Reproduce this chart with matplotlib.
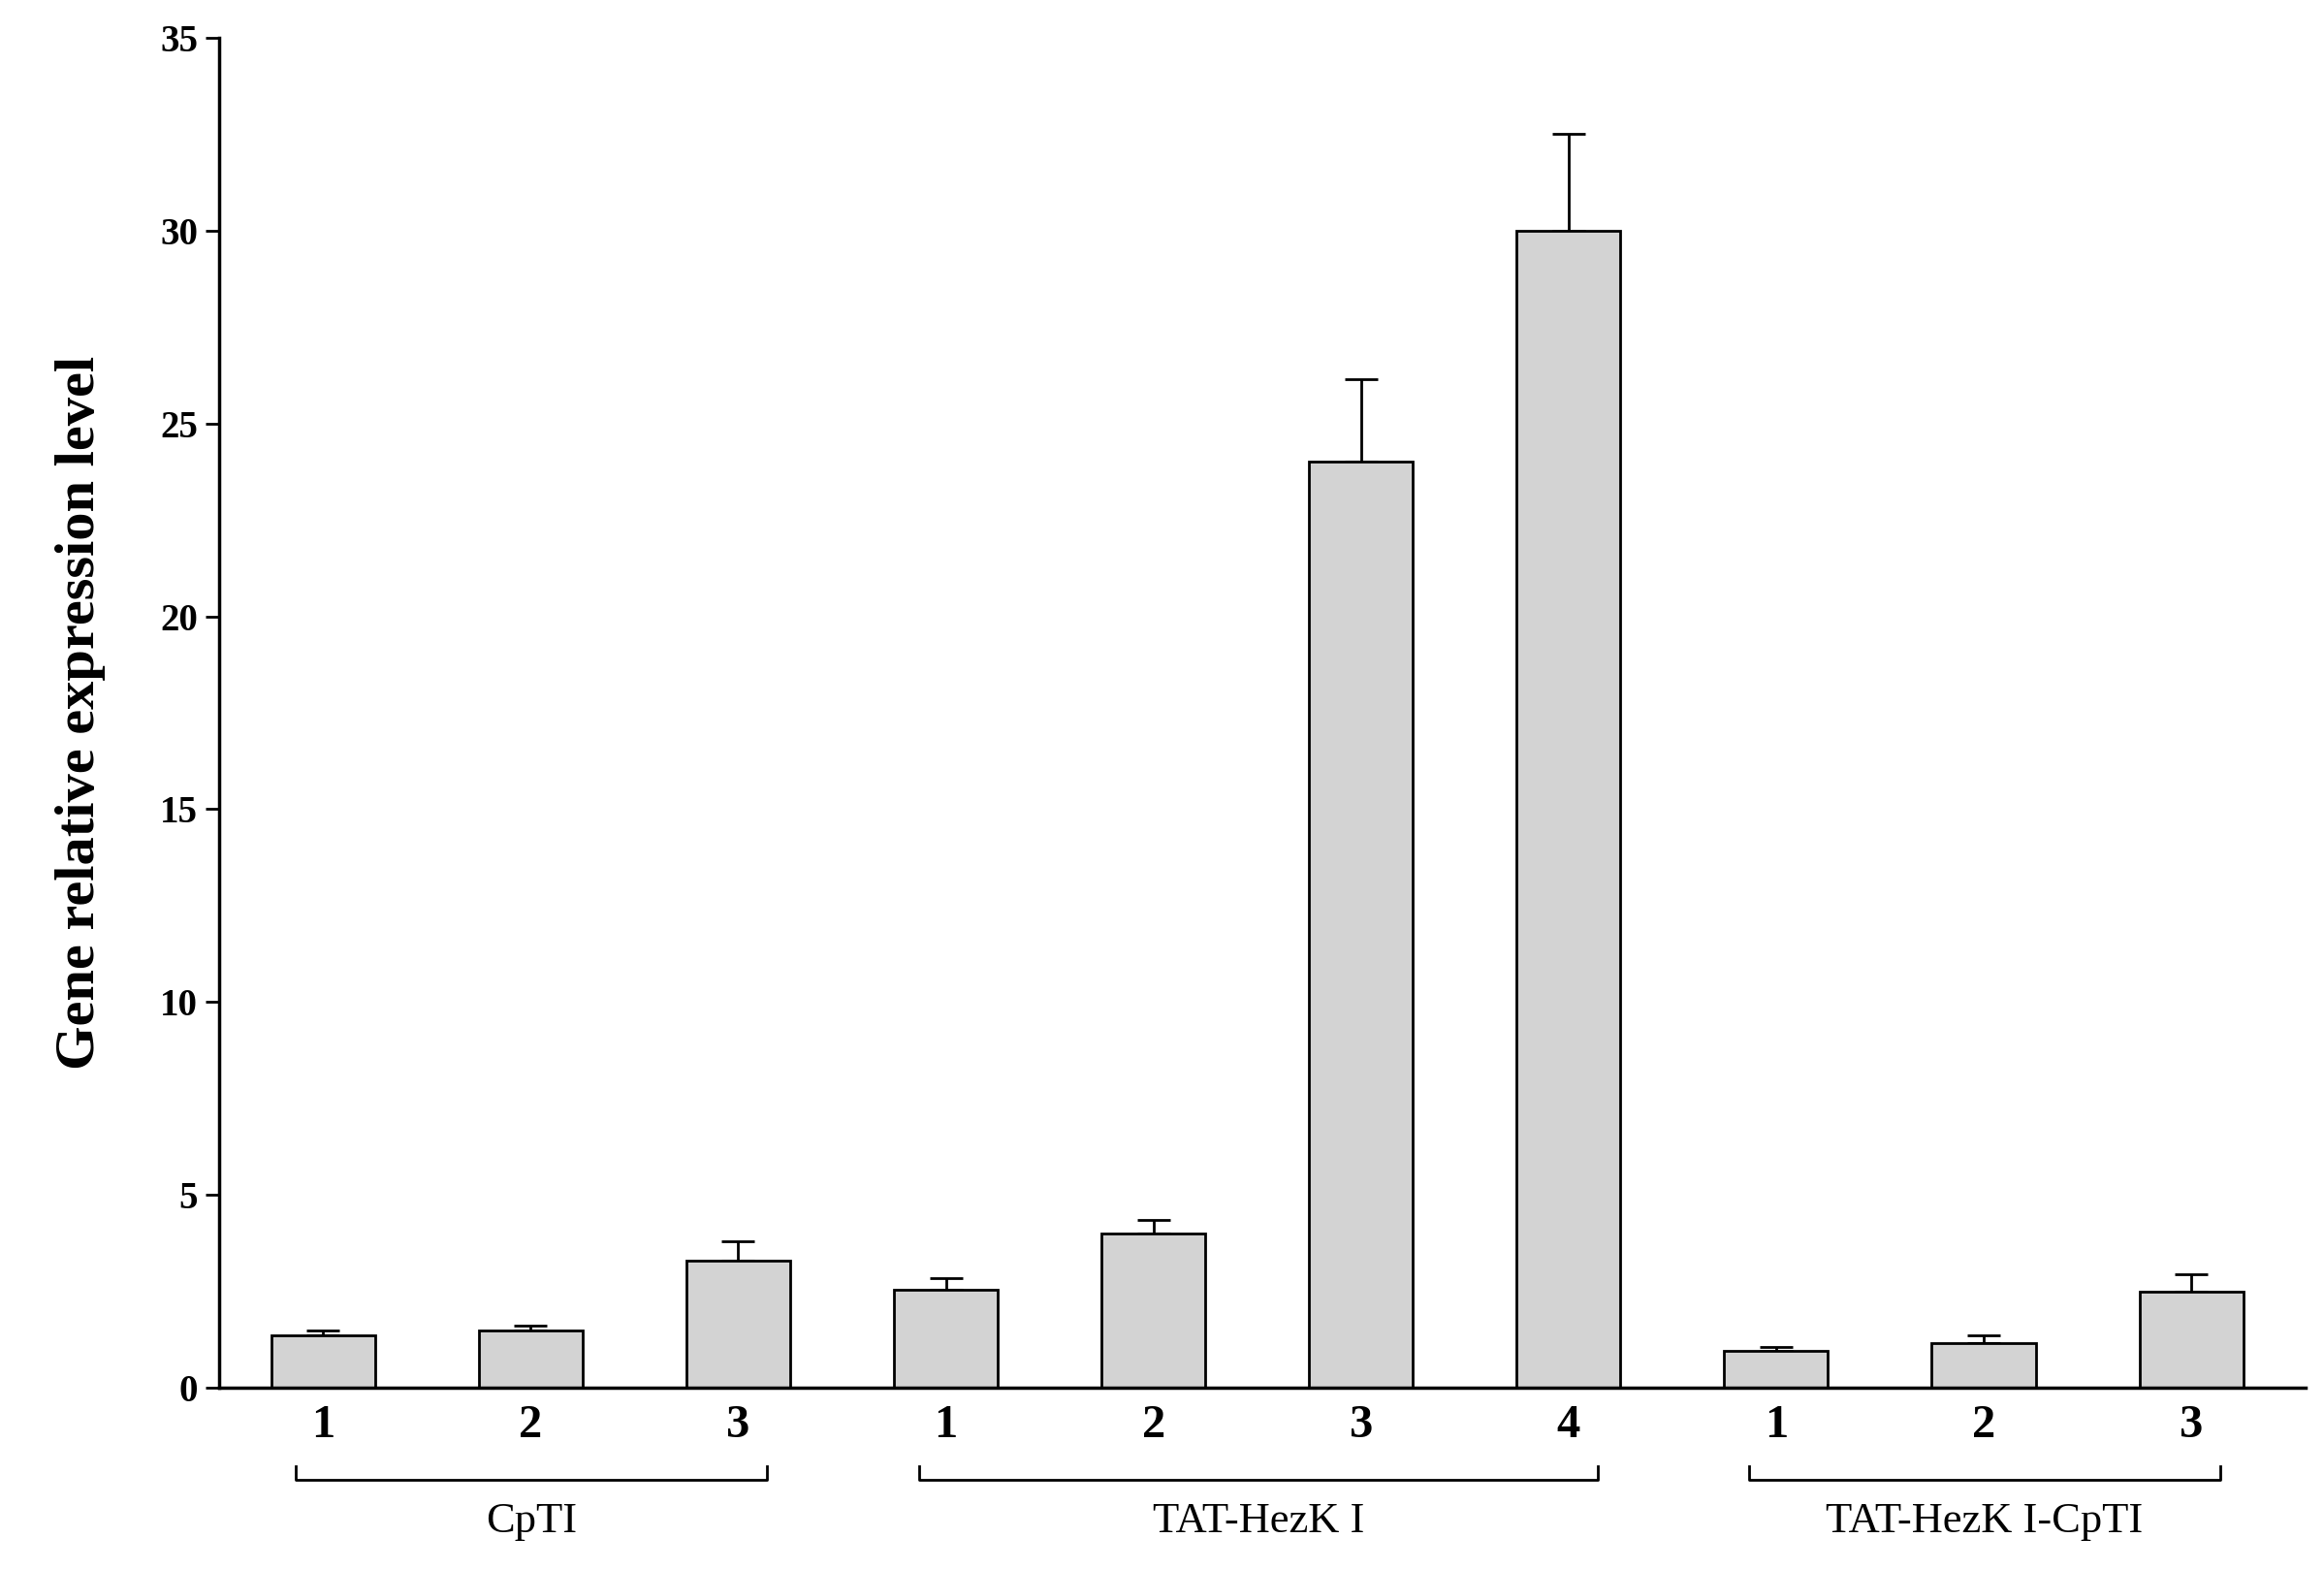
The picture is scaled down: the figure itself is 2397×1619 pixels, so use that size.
import matplotlib.pyplot as plt
import matplotlib.transforms as mtransforms
import numpy as np

groups = ["CpTI", "TAT-HezK I", "TAT-HezK I-CpTI"]
bar_labels = ["1", "2", "3", "1", "2", "3", "4", "1", "2", "3"]
group_of_bar = [0, 0, 0, 1, 1, 1, 1, 2, 2, 2]
values = [1.35, 1.5, 3.3, 2.55, 4.0, 24.0, 30.0, 0.95, 1.15, 2.5]
errors = [0.15, 0.12, 0.5, 0.3, 0.35, 2.15, 2.5, 0.1, 0.2, 0.45]

plt.rcParams['font.family'] = ['Liberation Serif', 'DejaVu Serif']

fig = plt.figure(figsize=(23.97, 16.19), dpi=100)
ax = fig.add_axes([0.0944, 0.116, 0.8976, 0.86])

x = np.arange(len(values))
ax.bar(x, values, width=0.5, color="#d3d3d3", edgecolor="black", linewidth=2, zorder=2)
ax.errorbar(x, values, yerr=[np.zeros(len(errors)), errors], fmt="none",
            ecolor="black", elinewidth=2, capsize=12, capthick=2, zorder=1)

ax.set_xlim(-0.5, 9.55)
ax.set_ylim(0, 35)
ax.set_yticks(np.arange(0, 36, 5))
ax.set_xticks(x)
ax.set_xticklabels(bar_labels, fontsize=35, fontweight="bold")
ax.tick_params(axis="x", length=0, pad=12)
ax.tick_params(axis="y", length=10, width=2, labelsize=28, pad=6)
for lab in ax.get_yticklabels():
    lab.set_fontweight("bold")
for s in ["top", "right"]:
    ax.spines[s].set_visible(False)
for s in ["left", "bottom"]:
    ax.spines[s].set_linewidth(2.5)

ax.set_ylabel("Gene relative expression level", fontsize=42, fontweight="bold", labelpad=40)

trans = mtransforms.blended_transform_factory(ax.transData, ax.transAxes)
for g, name in enumerate(groups):
    idx = [i for i, gb in enumerate(group_of_bar) if gb == g]
    x0, x1 = idx[0] - 0.13, idx[-1] + 0.14
    yb, yt = -0.068, -0.058
    ax.plot([x0, x0, x1, x1], [yt, yb, yb, yt], color="black", lw=2,
            transform=trans, clip_on=False)
    ax.text((x0 + x1) / 2, -0.099, name, transform=trans, ha="center", va="center",
            fontsize=32)

fig.savefig("out.png", dpi=100)
